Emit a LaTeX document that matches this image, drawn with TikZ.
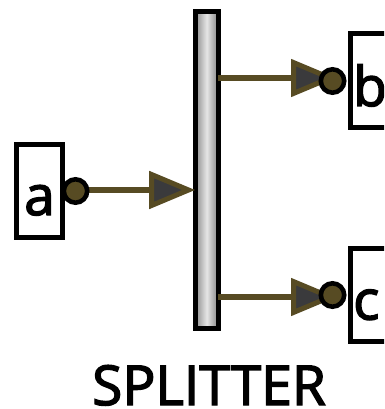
\documentclass[tikz,border=0pt]{standalone}
\usepackage{fontspec}
\setmainfont[FakeBold=2.6]{Open Sans}
\usetikzlibrary{arrows.meta}
\definecolor{olive}{HTML}{574B23}
\definecolor{tipfill}{HTML}{3A3A3C}
\tikzset{
  x=1pt,y=-1pt,
  portbox/.style={draw=black,line width=5pt,fill=white,minimum width=46pt,minimum height=93pt,inner sep=0pt,outer sep=0pt},
  splitbar/.style={draw=black,line width=5pt,minimum width=23pt,minimum height=317.5pt,inner sep=0pt,outer sep=0pt,left color=black!45,right color=black!48,middle color=black!10},
  port/.style={circle,draw=black,line width=4.6pt,fill=olive,minimum size=23.4pt,inner sep=0pt,outer sep=0pt},
  flow/.style={draw=olive,line width=5.6pt,-{Triangle[length=46pt,width=37pt,color=olive,line width=5pt,fill=tipfill]}},
  letter/.style={font=\fontsize{55}{55}\selectfont,inner sep=0pt},
  caption/.style={font=\fontsize{55}{55}\selectfont,inner sep=0pt}
}
\begin{document}
\begin{tikzpicture}
\useasboundingbox (0,0) rectangle (384,409);
\clip (0,0) rectangle (384,409);
\node[portbox] (a) at (39.5,191) {};
\node[portbox] (b) at (373.5,80.5) {};
\node[portbox] (c) at (373.5,295) {};
\node[letter,anchor=base] (la) at (39.5,215) {a};
\node[letter,anchor=base west] (lb) at (353,106) {b};
\node[letter,anchor=base west] (lc) at (353,319.5) {c};
\node[splitbar] (s) at (206.7,170.2) {};
\coordinate (ta) at (76,190);
\coordinate (tb) at (337,78);
\coordinate (tc) at (337,297);
\draw[flow] (ta) -- (s.west |- ta);
\draw[flow] (s.east |- tb) -- (tb);
\draw[flow] (s.east |- tc) -- (tc);
\node[port] (pa) at (75.5,191) {};
\node[port] (pb) at (332.5,81) {};
\node[port] (pc) at (332.5,295) {};
\node[caption,anchor=base] (cap) at (209,405) {SPLITTER};
\end{tikzpicture}
\end{document}
